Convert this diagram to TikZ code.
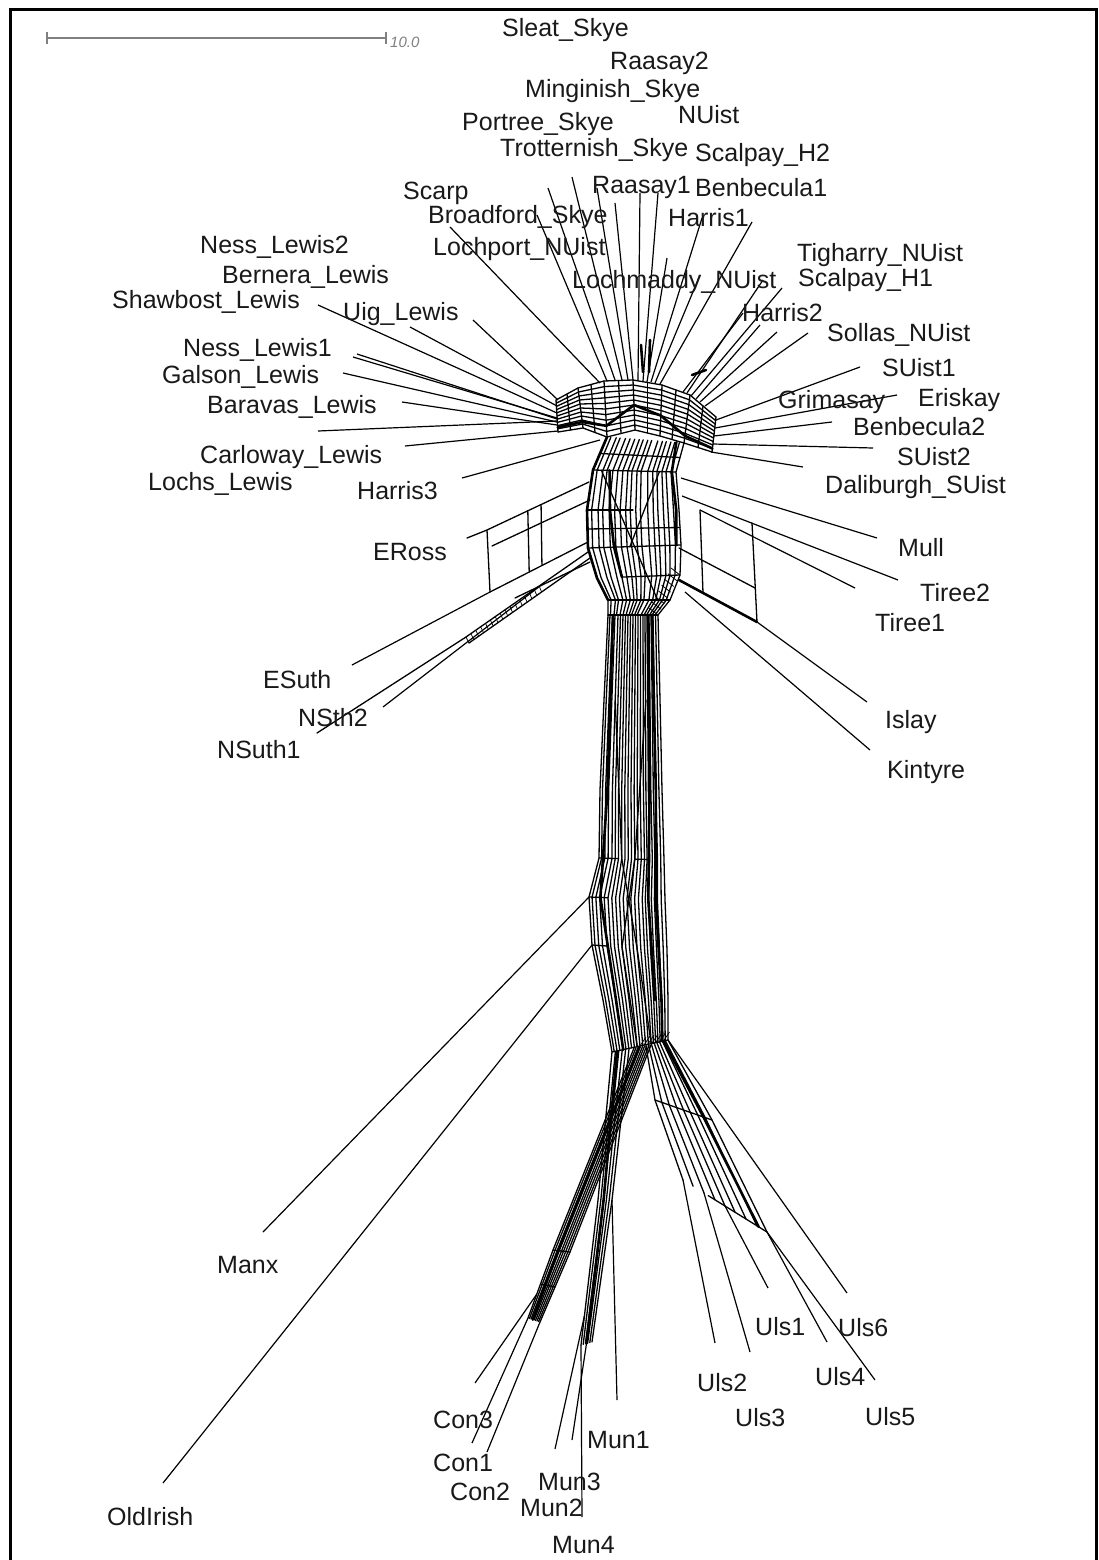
\documentclass[tikz,border=0pt]{standalone}
\usepackage{fontspec}
\setmainfont{Liberation Sans}
\usetikzlibrary{calc}
\newcommand\strands[4]{\foreach \vv in {#4}{\draw[net] ($(#10)!\vv!(#20)$) \foreach \ii in {1,...,#3}{ -- ($(#1\ii)!\vv!(#2\ii)$)};}}
\newcommand\rungs[3]{\foreach \ii in {#3}{\draw[net] (#1\ii) -- (#2\ii);}}
\newcommand\midrungs[3]{\foreach \ii in {#3}{\pgfmathtruncatemacro\jj{\ii+1}\draw[net] ($(#1\ii)!0.5!(#1\jj)$) -- ($(#2\ii)!0.5!(#2\jj)$);}}
\newcommand\prung[5]{\draw[net] ($(#1#3)!#4!(#2#3)$) -- ($(#1#3)!#5!(#2#3)$);}
\begin{document}
\begin{tikzpicture}[x=1pt,y=-1pt,
  net/.style={line width=1.3pt,line join=round,line cap=round},
  fat/.style={line width=2.6pt,line join=round,line cap=round},
  leaf/.style={line width=1.2pt},
  lab/.style={anchor=base west,inner sep=0pt,text=black!90,font=\fontsize{25}{25}\selectfont}]
\useasboundingbox (0,0) rectangle (1099,1560);
\fill[white] (0,0) rectangle (1099,1560);
\draw[line width=3pt] (10,1575) -- (10,9.5) -- (1096,9.5) -- (1096,1575);
% scale bar
\coordinate (sb1) at (47,38);
\coordinate (sb2) at (386,38);
\draw[black!50,line width=1.3pt] (sb1) -- (sb2);
\draw[black!50,line width=1.3pt] ($(sb1)+(0,-6)$) -- ($(sb1)+(0,6)$);
\draw[black!50,line width=1.3pt] ($(sb2)+(0,-6)$) -- ($(sb2)+(0,6)$);
\node[anchor=base west,inner sep=0pt,text=black!50,font=\fontsize{15}{15}\selectfont\itshape] (sbl) at (390,48) {10.0};

% ---------- arch (top grid)
\coordinate (O0) at (556,400);
\coordinate (O1) at (578,388);
\coordinate (O2) at (604,381);
\coordinate (O3) at (633,380);
\coordinate (O4) at (662,385);
\coordinate (O5) at (690,395);
\coordinate (O6) at (716,417);
\coordinate (I0) at (558,432);
\coordinate (I1) at (583,428);
\coordinate (I2) at (607,437);
\coordinate (I3) at (635,430);
\coordinate (I4) at (660,436);
\coordinate (I5) at (684,443);
\coordinate (I6) at (712,452);
\strands{O}{I}{6}{0,0.1,0.2,0.3,0.4,0.5,0.6,0.7,0.8,0.9,1}
\draw[fat] ($(O0)!0.85!(I0)$) -- ($(O1)!0.85!(I1)$) -- ($(O2)!0.8!(I2)$) -- ($(O3)!0.5!(I3)$) -- ($(O4)!0.6!(I4)$) -- ($(O5)!0.85!(I5)$) -- ($(O6)!0.9!(I6)$);
\rungs{O}{I}{0,...,6}
\midrungs{O}{I}{0,...,5}

% ---------- bulb
\coordinate (L0) at (607,437);
\coordinate (L1) at (593,470);
\coordinate (L2) at (587,510);
\coordinate (L3) at (588,548);
\coordinate (L4) at (597,578);
\coordinate (L5) at (608,600);
\coordinate (L6) at (608,615);
\coordinate (R0) at (684,443);
\coordinate (R1) at (676,472);
\coordinate (R2) at (679,510);
\coordinate (R3) at (681,545);
\coordinate (R4) at (680,575);
\coordinate (R5) at (670,600);
\coordinate (R6) at (658,615);
\strands{L}{R}{6}{0,0.05,0.12,0.17,0.24,0.3,0.36,0.42,0.47,0.53,0.58,0.66,0.72,0.77,0.83,0.88,0.94,1}
\draw[fat] (L0) -- (L1) -- (L2) -- (L3) -- (L4) -- (L5);
\draw[fat] ($(L1)!0.2!(R1)$) -- ($(L2)!0.25!(R2)$) -- ($(L3)!0.28!(R3)$) -- ($(L4)!0.3!(R4)$);
\draw[fat] ($(L0)!0.9!(R0)$) -- ($(L1)!0.95!(R1)$) -- ($(L2)!0.97!(R2)$) -- ($(L3)!0.95!(R3)$);
\rungs{L}{R}{1,3,5}
\prung{L}{R}{2}{0}{0.5}
\prung{L}{R}{4}{0.3}{1}
\midrungs{L}{R}{0,2}
\draw[net] ($(L1)!0.1!(R1)$) -- ($(L3)!0.5!(R3)$) -- ($(L5)!0.8!(R5)$);
\draw[net] ($(L1)!0.8!(R1)$) -- ($(L3)!0.45!(R3)$);
\foreach \k in {0,...,7}{\draw[line width=0.8pt] ($(R4)!\k/7!(R6)$) -- ++(-9,-7);}

% ---------- trunk
\coordinate (P0) at (608,615);
\coordinate (P1) at (604,700);
\coordinate (P2) at (600,790);
\coordinate (P3) at (599,858);
\coordinate (P4) at (589,897);
\coordinate (P5) at (592,945);
\coordinate (P6) at (603,1000);
\coordinate (P7) at (612,1052);
\coordinate (Q0) at (658,615);
\coordinate (Q1) at (660,700);
\coordinate (Q2) at (662,790);
\coordinate (Q3) at (664,860);
\coordinate (Q4) at (665,900);
\coordinate (Q5) at (667,950);
\coordinate (Q6) at (668,1000);
\coordinate (Q7) at (668,1040);
\strands{P}{Q}{7}{0,0.04,0.09,0.14,0.2,0.25,0.3,0.35,0.4,0.45,0.5,0.55,0.6,0.65,0.7,0.74,0.78,0.82,0.86,0.9,0.95,1}
\draw[fat] ($(P0)!0.1!(Q0)$) -- ($(P2)!0.12!(Q2)$) -- ($(P4)!0.15!(Q4)$) -- ($(P6)!0.2!(Q6)$) -- ($(P7)!0.2!(Q7)$);
\draw[fat] ($(P0)!0.88!(Q0)$) -- ($(P2)!0.9!(Q2)$) -- ($(P4)!0.88!(Q4)$) -- ($(P6)!0.9!(Q6)$) -- ($(P7)!0.9!(Q7)$);
\draw[fat] ($(P0)!0.8!(Q0)$) -- ($(P2)!0.8!(Q2)$) -- ($(P4)!0.78!(Q4)$) -- ($(P6)!0.8!(Q6)$);
\draw[net] ($(P1)!0.2!(Q1)$) -- ($(P3)!0.35!(Q3)$) -- ($(P5)!0.6!(Q5)$) -- ($(P7)!0.7!(Q7)$);
\draw[net] ($(P1)!0.75!(Q1)$) -- ($(P3)!0.55!(Q3)$) -- ($(P5)!0.4!(Q5)$) -- ($(P7)!0.45!(Q7)$);
\rungs{P}{Q}{0,7}
\prung{P}{Q}{3}{0}{0.3}
\prung{P}{Q}{4}{0}{0.25}
\prung{P}{Q}{5}{0}{0.2}
\prung{P}{Q}{3}{0.55}{0.75}

% ---------- Munster band
\coordinate (M0) at (612,1052);
\coordinate (M1) at (598,1200);
\coordinate (M2) at (581,1345);
\coordinate (N0) at (629,1049);
\coordinate (N1) at (612,1200);
\coordinate (N2) at (592,1342);
\strands{M}{N}{2}{0,0.2,0.4,0.6,0.8,1}
\draw[fat] ($(M0)!0.3!(N0)$) -- ($(M1)!0.4!(N1)$) -- ($(M2)!0.5!(N2)$);

% ---------- Connacht band
\coordinate (C0) at (634,1048);
\coordinate (C1) at (553,1250);
\coordinate (C2) at (528,1318);
\coordinate (D0) at (651,1045);
\coordinate (D1) at (570,1252);
\coordinate (D2) at (540,1322);
\strands{C}{D}{2}{0,0.12,0.25,0.37,0.5,0.62,0.75,0.88,1}
\draw[fat] ($(C0)!0.3!(D0)$) -- ($(C1)!0.3!(D1)$) -- ($(C2)!0.4!(D2)$);
\rungs{C}{D}{1}
\midrungs{C}{D}{1}

% ---------- Ulster band
\coordinate (U0) at (646,1046);
\coordinate (U1) at (655,1100);
\coordinate (U2) at (683,1180);
\coordinate (W0) at (668,1040);
\coordinate (W1) at (712,1120);
\coordinate (W2) at (767,1232);
\strands{U}{W}{2}{0,0.12,0.25,0.38,0.5,0.62,0.75,0.88,1}
\draw[fat] ($(U0)!0.8!(W0)$) -- ($(U1)!0.85!(W1)$) -- ($(U2)!0.9!(W2)$);
\rungs{U}{W}{1}
\prung{U}{W}{2}{0.3}{1}
% junction hatch
\foreach \k in {0,...,6}{\draw[line width=0.8pt] ($(P7)!0.5+\k*0.07!(Q7)$) -- ++(6,-9);}

% ---------- ERoss / Sutherland branch
\coordinate (E1) at (589,482);
\coordinate (E2) at (487,530);
\coordinate (F1) at (590,500);
\coordinate (F2) at (492,546);
\coordinate (G1) at (588,542);
\coordinate (G2) at (490,592);
\coordinate (H1) at (590,562);
\coordinate (H2) at (515,598);
\coordinate (erossend) at (467,538);
\coordinate (esuthend) at (352,665);
\draw[net] (E1) -- (E2) -- (erossend);
\draw[net] (F1) -- (F2);
\draw[net] (G1) -- (G2);
\draw[net] (H1) -- (H2);
\draw[net] (E2) -- (G2);
\draw[net] ($(E2)!0.4!(E1)$) -- ($(G2)!0.4!(G1)$);
\draw[net] ($(E2)!0.53!(E1)$) -- ($(G2)!0.53!(G1)$);
\draw[leaf] (G2) -- (esuthend);
\coordinate (nb1) at (588,552);
\coordinate (nb2) at (466,637);
\coordinate (nc1) at (590,558);
\coordinate (nc2) at (469,643);
\coordinate (nsuthend) at (317,733);
\coordinate (nsth2s) at (540,586);
\coordinate (nsth2end) at (383,707);
\draw[net] (nb1) -- (nb2) -- (nsuthend);
\draw[net] (nc1) -- (nc2);
\foreach \t in {0,0.04,...,0.6}{\draw[line width=0.7pt] ($(nb2)!\t!(nb1)$) -- ($(nc2)!\t!(nc1)$);}
\draw[leaf] (nsth2s) -- (nsth2end);

% ---------- right branch (Mull, Tiree, Islay, Kintyre)
\coordinate (ra1) at (681,478);
\coordinate (mullend) at (877,538);
\coordinate (rb1) at (682,496);
\coordinate (tiree2end) at (898,580);
\coordinate (rc1) at (700,510);
\coordinate (tiree1end) at (855,588);
\coordinate (rd1) at (679,548);
\coordinate (rd2) at (755,588);
\coordinate (re1) at (679,580);
\coordinate (re2) at (757,622);
\coordinate (islayend) at (867,702);
\coordinate (rk1) at (685,592);
\coordinate (kintyreend) at (870,750);
\coordinate (v1b) at (703,593);
\coordinate (v2t) at (752,523);
\draw[leaf] (ra1) -- (mullend);
\draw[leaf] (rb1) -- (tiree2end);
\draw[leaf] (rc1) -- (tiree1end);
\draw[net] (rd1) -- (rd2);
\draw[fat] (re1) -- (re2);
\draw[leaf] (re2) -- (islayend);
\draw[leaf] (rk1) -- (kintyreend);
\draw[net] (rc1) -- (v1b);
\draw[net] (v2t) -- (re2);

% ---------- top leaves
\foreach \a/\b/\c/\d [count=\n] in {450/227/600/383, 537/215/607/381, 548/188/615/380, 572/177/622/380, 597/188/628/380, 615/203/633/380, 640/193/638/381, 658/193/643/381, 667/258/647/382, 702/218/651/382, 700/275/655/383, 752/222/660/384, 743/313/683/392, 763/280/687/393, 782/288/691/396, 760/325/696/399, 777/332/700/402, 808/333/705/406}{
  \coordinate (tl\n) at (\a,\b);
  \coordinate (ta\n) at (\c,\d);
  \draw[leaf] (tl\n) -- (ta\n);
}
% short split marks in top fan
\draw[fat] (641,345) -- (643,372);
\draw[fat] (650,340) -- (649,372);
\draw[fat] (692,375) -- (706,370);
% ---------- right leaves
\foreach \a/\b/\c/\d [count=\n] in {860/367/716/420, 897/395/715/428, 832/422/714/436, 873/448/713/444, 803/467/711/452}{
  \coordinate (rl\n) at (\a,\b);
  \coordinate (rla\n) at (\c,\d);
  \draw[leaf] (rl\n) -- (rla\n);
}
% ---------- left leaves
\foreach \a/\b/\c/\d [count=\n] in {473/320/558/400, 410/327/557/406, 318/305/557/413, 353/357/557/418, 357/354/557/419, 343/373/557/422, 402/402/557/425, 318/431/557/421, 405/446/558/431, 462/478/600/440}{
  \coordinate (ll\n) at (\a,\b);
  \coordinate (lla\n) at (\c,\d);
  \draw[leaf] (ll\n) -- (lla\n);
}

% ---------- Manx, OldIrish
\coordinate (manxend) at (263,1232);
\coordinate (oldend) at (163,1483);
\draw[leaf] (P4) -- (manxend);
\draw[leaf] (P5) -- (oldend);

% ---------- Ulster leaves
\coordinate (us3) at ($(U2)!0.25!(W2)$);
\coordinate (us1) at ($(U2)!0.5!(W2)$);
\coordinate (uls2end) at (715,1343);
\coordinate (uls3end) at (750,1352);
\coordinate (uls1end) at (768,1288);
\coordinate (uls4end) at (827,1342);
\coordinate (uls5end) at (875,1380);
\coordinate (uls6end) at (847,1293);
\draw[leaf] (U2) -- (uls2end);
\draw[leaf] (us3) -- (uls3end);
\draw[leaf] (us1) -- (uls1end);
\draw[leaf] (W2) -- (uls4end);
\draw[leaf] (W2) -- (uls5end);
\draw[leaf] (W0) -- (uls6end);

% ---------- Connacht leaves
\coordinate (cs3) at ($(C1)!0.65!(C2)$);
\coordinate (con3end) at (475,1383);
\coordinate (con1end) at (472,1443);
\coordinate (con2end) at (487,1452);
\draw[leaf] (cs3) -- (con3end);
\draw[leaf] (C2) -- (con1end);
\draw[leaf] (D2) -- (con2end);

% ---------- Munster leaves
\coordinate (ms3) at ($(M2)!0.5!(N2)$);
\coordinate (ms2) at ($(M2)!0.2!(M1)$);
\coordinate (mun4end) at (582,1517);
\coordinate (mun3end) at (572,1440);
\coordinate (mun2end) at (555,1449);
\coordinate (mun1end) at (617,1400);
\draw[leaf] (M2) -- (mun4end);
\draw[leaf] (ms3) -- (mun3end);
\draw[leaf] (ms2) -- (mun2end);
\draw[leaf] (N1) -- (mun1end);

% ---------- labels
\foreach \x/\y/\t [count=\n] in {
502/37/Sleat\_Skye, 610/70/Raasay2, 525/98/Minginish\_Skye, 678/124/NUist,
462/131/Portree\_Skye, 500/156/Trotternish\_Skye, 695/161/Scalpay\_H2,
592/193/Raasay1, 695/196/Benbecula1, 403/199/Scarp, 428/223/Broadford\_Skye,
668/226/Harris1, 200/253/Ness\_Lewis2, 433/255/Lochport\_NUist,
797/261/Tigharry\_NUist, 222/283/Bernera\_Lewis, 798/286/Scalpay\_H1,
572/288/Lochmaddy\_NUist, 112/308/Shawbost\_Lewis, 343/320/Uig\_Lewis,
742/321/Harris2, 827/341/Sollas\_NUist, 183/356/Ness\_Lewis1, 882/376/SUist1,
162/383/Galson\_Lewis, 778/408/Grimasay, 918/406/Eriskay,
207/413/Baravas\_Lewis, 853/435/Benbecula2, 200/463/Carloway\_Lewis,
897/465/SUist2, 148/490/Lochs\_Lewis, 825/493/Daliburgh\_SUist,
357/499/Harris3, 373/560/ERoss, 898/556/Mull, 920/601/Tiree2,
875/631/Tiree1, 263/688/ESuth, 298/726/NSth2, 885/728/Islay,
217/758/NSuth1, 887/778/Kintyre, 217/1273/Manx, 755/1335/Uls1,
838/1336/Uls6, 815/1385/Uls4, 697/1391/Uls2, 433/1428/Con3,
735/1426/Uls3, 865/1425/Uls5, 587/1448/Mun1, 433/1471/Con1,
538/1490/Mun3, 450/1500/Con2, 520/1516/Mun2, 107/1525/OldIrish,
552/1553/Mun4}{
  \node[lab] (lab\n) at (\x,\y) {\t};
}
\end{tikzpicture}
\end{document}
